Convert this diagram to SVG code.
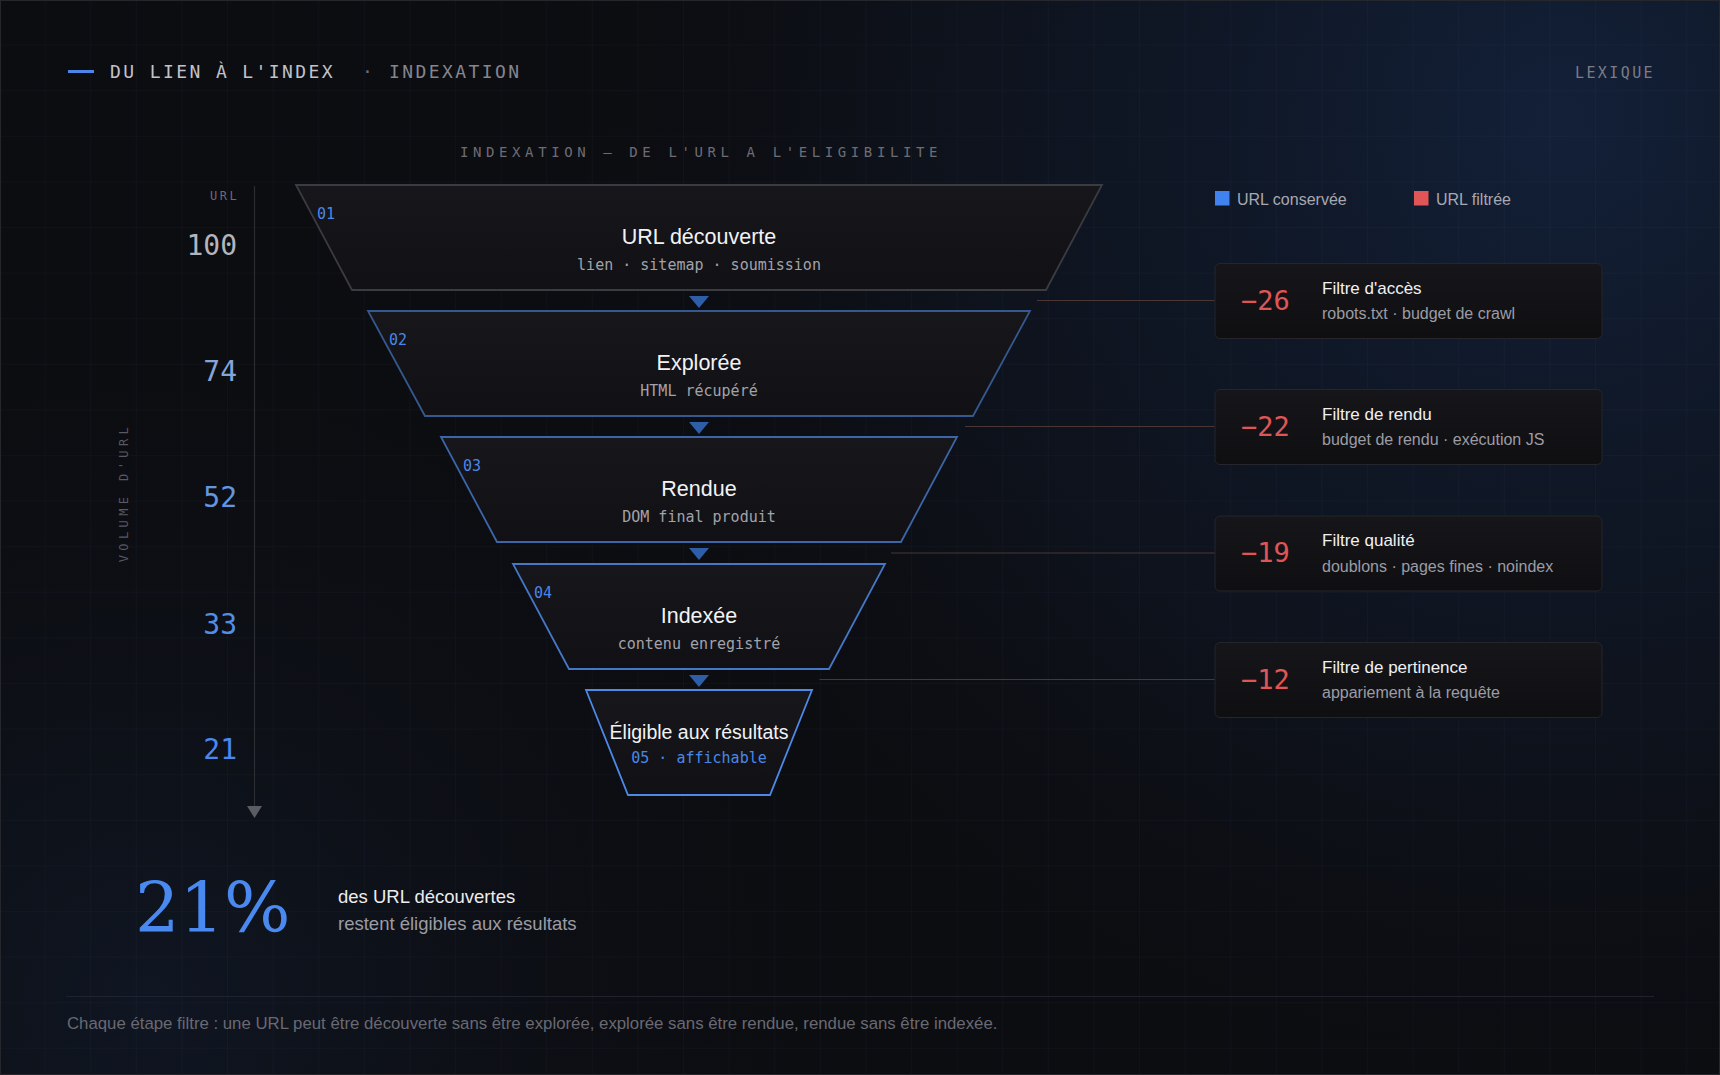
<svg xmlns="http://www.w3.org/2000/svg" width="1720" height="1075" viewBox="0 0 1720 1075">
  <defs>
    <pattern id="grid" width="45.6" height="45.6" patternUnits="userSpaceOnUse">
      <path d="M45.6 0V45.6M0 45.6H45.6" fill="none" stroke="#5a78b4" stroke-opacity="0.09" stroke-width="1"/>
    </pattern>
    <radialGradient id="glowTR" cx="1560" cy="120" r="1000" gradientUnits="userSpaceOnUse">
      <stop offset="0" stop-color="#13213a" stop-opacity="0.95"/>
      <stop offset="0.6" stop-color="#101a2c" stop-opacity="0.45"/>
      <stop offset="1" stop-color="#0c0e13" stop-opacity="0"/>
    </radialGradient>
    <radialGradient id="glowBL" cx="150" cy="1000" r="700" gradientUnits="userSpaceOnUse">
      <stop offset="0" stop-color="#111a2a" stop-opacity="0.7"/>
      <stop offset="1" stop-color="#0c0e13" stop-opacity="0"/>
    </radialGradient>
    <linearGradient id="stageFill" x1="0" y1="0" x2="0" y2="1">
      <stop offset="0" stop-color="#16161b"/>
      <stop offset="1" stop-color="#111115"/>
    </linearGradient>
    <linearGradient id="cardFill" x1="0" y1="0" x2="0" y2="1">
      <stop offset="0" stop-color="#16161a"/>
      <stop offset="1" stop-color="#0f0f12"/>
    </linearGradient>
    <style>
      .mono { font-family: "DejaVu Sans Mono", "Liberation Mono", monospace; }
      .sans { font-family: "Liberation Sans", Arial, sans-serif; }
      .stage { fill: url(#stageFill); stroke-width: 1.8; stroke-linejoin: miter; }
      .num { font-size: 15px; fill: #4a86e8; }
      .title { font-size: 21.5px; fill: #f2f2f5; text-anchor: middle; }
      .sub { font-size: 15px; fill: #a2a2aa; text-anchor: middle; }
      .sub.blue { fill: #4a86e8; }
      .flow { fill: #2f5ea8; }
      .card { fill: url(#cardFill); stroke: #25252b; stroke-width: 1; }
      .loss { font-size: 27px; fill: #e05656; }
      .ctitle { font-size: 17px; fill: #f0f0f2; }
      .csub { font-size: 16px; fill: #9c9ca4; }
      .vol { font-size: 28px; text-anchor: end; }
      .link { stroke: #4a3634; stroke-width: 1.2; fill: none; }
    </style>
  </defs>

  <!-- background -->
  <rect width="1720" height="1075" fill="#0c0d11"/>
  <rect width="1720" height="1075" fill="url(#glowTR)"/>
  <rect width="1720" height="1075" fill="url(#glowBL)"/>
  <rect width="1720" height="1075" fill="url(#grid)"/>
  <rect x="0.5" y="0.5" width="1719" height="1074" fill="none" stroke="#26272d" stroke-width="1"/>

  <!-- header -->
  <g id="header">
    <line x1="68" y1="71.5" x2="94" y2="71.5" stroke="#4a86e8" stroke-width="3"/>
    <text class="mono" x="110" y="78" font-size="18" letter-spacing="2.4" fill="#c2c2ca">DU LIEN À L'INDEX</text>
    <text class="mono" x="362" y="78" font-size="18" fill="#6e6e78">·</text>
    <text class="mono" x="389" y="78" font-size="18" letter-spacing="2.4" fill="#85858f">INDEXATION</text>
    <text class="mono" x="1575" y="78" font-size="15" letter-spacing="2.4" fill="#7c7c86">LEXIQUE</text>
    <text class="mono" x="701" y="157" font-size="14" letter-spacing="4.6" fill="#6c6c76" text-anchor="middle">INDEXATION — DE L'URL A L'ELIGIBILITE</text>
  </g>

  <!-- axis -->
  <g id="axis">
    <line x1="254.5" y1="186" x2="254.5" y2="806" stroke="#2c2d33" stroke-width="1.2"/>
    <polygon points="247,806 262,806 254.5,818" fill="#5c5c64"/>
    <text class="mono" x="210" y="200" font-size="12" letter-spacing="2.5" fill="#6c6c76">URL</text>
    <text class="mono" transform="translate(128,492.5) rotate(-90)" font-size="12" letter-spacing="4.4" fill="#595962" text-anchor="middle">VOLUME D'URL</text>
    <text class="mono vol" x="237" y="255" fill="#b4b4bc">100</text>
    <text class="mono vol" x="237" y="381" fill="#86a4d6">74</text>
    <text class="mono vol" x="237" y="507" fill="#6496e0">52</text>
    <text class="mono vol" x="237" y="634" fill="#528ee8">33</text>
    <text class="mono vol" x="237" y="759" fill="#4a88ee">21</text>
  </g>

  <!-- legend -->
  <g id="legend">
    <rect x="1215" y="191" width="14.5" height="14.5" fill="#3f82f0"/>
    <text class="sans" x="1237" y="204.5" font-size="16" fill="#a8a8b0">URL conservée</text>
    <rect x="1414" y="191" width="14.5" height="14.5" fill="#e05656"/>
    <text class="sans" x="1436" y="204.5" font-size="16" fill="#a8a8b0">URL filtrée</text>
  </g>

  <!-- connectors -->
  <g id="connectors">
    <line class="link" x1="1037" y1="300.5" x2="1215" y2="300.5"/>
    <line class="link" x1="965" y1="426.5" x2="1215" y2="426.5"/>
    <line class="link" x1="891" y1="553" x2="1215" y2="553"/>
    <line class="link" x1="819.5" y1="679.5" x2="1215" y2="679.5"/>
    <polygon class="flow" points="689,296 709,296 699,308"/>
    <polygon class="flow" points="689,422 709,422 699,434"/>
    <polygon class="flow" points="689,548 709,548 699,560"/>
    <polygon class="flow" points="689,675 709,675 699,687"/>
  </g>

  <!-- funnel stages -->
  <g id="stage-1">
    <polygon class="stage" stroke="#3b3b42" points="296,185 1102,185 1046,290 352,290"/>
    <text class="mono num" x="317" y="219">01</text>
    <text class="sans title" x="699" y="244">URL découverte</text>
    <text class="mono sub" x="699" y="270">lien · sitemap · soumission</text>
  </g>
  <g id="stage-2">
    <polygon class="stage" stroke="#35588f" points="368,311 1030,311 973,416 425,416"/>
    <text class="mono num" x="389" y="345">02</text>
    <text class="sans title" x="699" y="370">Explorée</text>
    <text class="mono sub" x="699" y="396">HTML récupéré</text>
  </g>
  <g id="stage-3">
    <polygon class="stage" stroke="#3c66a8" points="441,437 957,437 901,542 497,542"/>
    <text class="mono num" x="463" y="471">03</text>
    <text class="sans title" x="699" y="496">Rendue</text>
    <text class="mono sub" x="699" y="522">DOM final produit</text>
  </g>
  <g id="stage-4">
    <polygon class="stage" stroke="#4577c6" points="513,564 885,564 829,669 569,669"/>
    <text class="mono num" x="534" y="598">04</text>
    <text class="sans title" x="699" y="623">Indexée</text>
    <text class="mono sub" x="699" y="649">contenu enregistré</text>
  </g>
  <g id="stage-5">
    <polygon class="stage" stroke="#4d8ae8" stroke-width="2" points="586,690 812,690 770,795 628,795"/>
    <text class="sans title" x="699" y="739" style="font-size:19.5px">Éligible aux résultats</text>
    <text class="mono sub blue" x="699" y="763">05 · affichable</text>
  </g>

  <!-- filter cards -->
  <g id="filter-1">
    <rect class="card" x="1215" y="263.5" width="387" height="75" rx="5"/>
    <text class="mono loss" x="1241" y="309.5">−26</text>
    <text class="sans ctitle" x="1322" y="293.5">Filtre d'accès</text>
    <text class="sans csub" x="1322" y="319">robots.txt · budget de crawl</text>
  </g>
  <g id="filter-2">
    <rect class="card" x="1215" y="389.5" width="387" height="75" rx="5"/>
    <text class="mono loss" x="1241" y="435.5">−22</text>
    <text class="sans ctitle" x="1322" y="419.5">Filtre de rendu</text>
    <text class="sans csub" x="1322" y="445">budget de rendu · exécution JS</text>
  </g>
  <g id="filter-3">
    <rect class="card" x="1215" y="516" width="387" height="75" rx="5"/>
    <text class="mono loss" x="1241" y="562">−19</text>
    <text class="sans ctitle" x="1322" y="546">Filtre qualité</text>
    <text class="sans csub" x="1322" y="571.5">doublons · pages fines · noindex</text>
  </g>
  <g id="filter-4">
    <rect class="card" x="1215" y="642.5" width="387" height="75" rx="5"/>
    <text class="mono loss" x="1241" y="688.5">−12</text>
    <text class="sans ctitle" x="1322" y="672.5">Filtre de pertinence</text>
    <text class="sans csub" x="1322" y="698">appariement à la requête</text>
  </g>

  <!-- summary -->
  <g id="summary">
    <text x="135" y="932" font-family="DejaVu Serif, Liberation Serif, serif" font-size="70" fill="#4a8af0">21%</text>
    <text class="sans" x="338" y="903" font-size="18.5" fill="#ececf0">des URL découvertes</text>
    <text class="sans" x="338" y="930" font-size="18.5" fill="#9c9ca4">restent éligibles aux résultats</text>
  </g>

  <!-- footer -->
  <g id="footer">
    <line x1="66" y1="996.5" x2="1654" y2="996.5" stroke="#1f2330" stroke-width="1"/>
    <text class="sans" x="67" y="1029" font-size="16.8" fill="#696972">Chaque étape filtre : une URL peut être découverte sans être explorée, explorée sans être rendue, rendue sans être indexée.</text>
  </g>
</svg>
